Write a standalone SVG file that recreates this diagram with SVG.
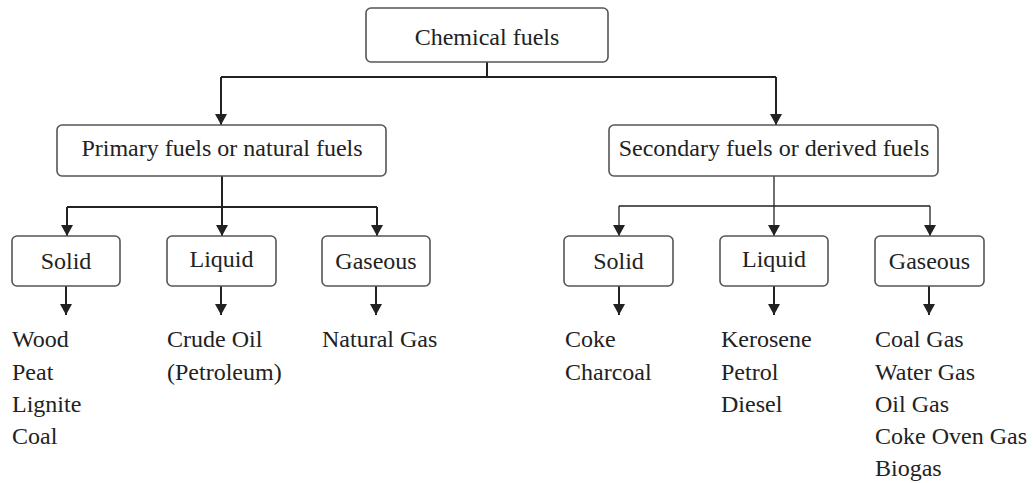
<svg xmlns="http://www.w3.org/2000/svg" width="1033" height="483" viewBox="0 0 1033 483">
<style>
.box{fill:#fff;stroke:#555;stroke-width:1.6}
.t{font-size:24px;fill:#222}
.c{text-anchor:middle}
.ln{fill:none;stroke:#222;stroke-width:2}
.thin{stroke-width:1.3}
</style>
<defs>
<marker id="dn" markerUnits="userSpaceOnUse" markerWidth="12" markerHeight="12" viewBox="0 0 12 12" refX="6" refY="11" orient="0">
<path d="M0,0 L12,0 L6,11 Z" fill="#222"/>
</marker>
</defs>
<rect width="1033" height="483" fill="#fff"/>
<g id="connectors">
<path class="ln" d="M487,62 V77"/>
<path class="ln" d="M221,77 H776"/>
<path class="ln" d="M221,77 V125" marker-end="url(#dn)"/>
<path class="ln" d="M776,77 V125" marker-end="url(#dn)"/>
<path class="ln" d="M222,176 V207"/>
<path class="ln" d="M67,207 H377"/>
<path class="ln" d="M67,207 V236" marker-end="url(#dn)"/>
<path class="ln" d="M222,207 V236" marker-end="url(#dn)"/>
<path class="ln" d="M377,207 V236" marker-end="url(#dn)"/>
<path class="ln thin" d="M774,176 V236" marker-end="url(#dn)"/>
<path class="ln thin" d="M619,206 H930"/>
<path class="ln thin" d="M619,206 V236" marker-end="url(#dn)"/>
<path class="ln thin" d="M930,206 V236" marker-end="url(#dn)"/>
<path class="ln" d="M66,286 V315" marker-end="url(#dn)"/>
<path class="ln" d="M221,286 V315" marker-end="url(#dn)"/>
<path class="ln" d="M376,286 V315" marker-end="url(#dn)"/>
<path class="ln" d="M619,286 V315" marker-end="url(#dn)"/>
<path class="ln" d="M774,286 V315" marker-end="url(#dn)"/>
<path class="ln" d="M929,286 V315" marker-end="url(#dn)"/>
</g>
<g font-family="Liberation Serif, Times New Roman, DejaVu Serif, serif">
<g id="chemical-fuels">
<rect class="box" x="366" y="8" width="242" height="54" rx="5"/>
<text class="t c" x="487" y="45">Chemical fuels</text>
</g>
<g id="primary">
<rect class="box" x="57" y="125" width="329" height="51" rx="5"/>
<text class="t c" x="222" y="156">Primary fuels or natural fuels</text>
</g>
<g id="secondary">
<rect class="box" x="609" y="125" width="329" height="51" rx="5"/>
<text class="t c" x="774" y="156">Secondary fuels or derived fuels</text>
</g>
<g id="p-solid">
<rect class="box" x="12" y="236" width="108" height="50" rx="5"/>
<text class="t c" x="66" y="269">Solid</text>
</g>
<g id="p-liquid">
<rect class="box" x="167" y="236" width="109" height="50" rx="5"/>
<text class="t c" x="221.5" y="267">Liquid</text>
</g>
<g id="p-gaseous">
<rect class="box" x="322" y="236" width="108" height="50" rx="5"/>
<text class="t c" x="376" y="269">Gaseous</text>
</g>
<g id="s-solid">
<rect class="box" x="564" y="236" width="109" height="50" rx="5"/>
<text class="t c" x="618.5" y="269">Solid</text>
</g>
<g id="s-liquid">
<rect class="box" x="720" y="236" width="108" height="50" rx="5"/>
<text class="t c" x="774" y="267">Liquid</text>
</g>
<g id="s-gaseous">
<rect class="box" x="875" y="236" width="109" height="50" rx="5"/>
<text class="t c" x="929.5" y="269">Gaseous</text>
</g>
<g id="p-solid-list">
<text class="t" x="12" y="347">Wood</text>
<text class="t" x="12" y="380">Peat</text>
<text class="t" x="12" y="412">Lignite</text>
<text class="t" x="12" y="444">Coal</text>
</g>
<g id="p-liquid-list">
<text class="t" x="167" y="347">Crude Oil</text>
<text class="t" x="167" y="380">(Petroleum)</text>
</g>
<g id="p-gaseous-list">
<text class="t" x="322" y="347">Natural Gas</text>
</g>
<g id="s-solid-list">
<text class="t" x="565" y="347">Coke</text>
<text class="t" x="565" y="380">Charcoal</text>
</g>
<g id="s-liquid-list">
<text class="t" x="721" y="347">Kerosene</text>
<text class="t" x="721" y="380">Petrol</text>
<text class="t" x="721" y="412">Diesel</text>
</g>
<g id="s-gaseous-list">
<text class="t" x="875" y="347">Coal Gas</text>
<text class="t" x="875" y="380">Water Gas</text>
<text class="t" x="875" y="412">Oil Gas</text>
<text class="t" x="875" y="444">Coke Oven Gas</text>
<text class="t" x="875" y="476">Biogas</text>
</g>
</g>
</svg>
